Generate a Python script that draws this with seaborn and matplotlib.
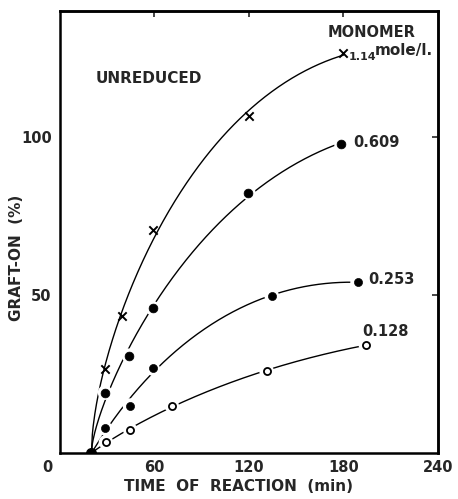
import numpy as np
import pandas as pd
import seaborn as sns
import matplotlib
matplotlib.use("Agg")
import matplotlib.pyplot as plt
import matplotlib.transforms as mtransforms

# Graft-on (%) versus time of reaction, one series per monomer concentration
start_time = 20.0
concentrations = ["1.14", "0.609", "0.253", "0.128"]
times_114 = [28.6, 39.2, 59.3, 120.0, 180.0]
graft_114 = [26.5, 43.4, 70.6, 106.7, 126.6]
times_0609 = [28.6, 43.8, 58.8, 119.6, 178.8]
graft_0609 = [19.0, 30.7, 45.8, 82.4, 97.8]
times_0253 = [28.6, 44.4, 58.8, 134.4, 189.0]
graft_0253 = [7.7, 14.9, 26.7, 49.8, 54.0]
times_0128 = [29.2, 44.7, 70.9, 131.2, 194.3]
graft_0128 = [3.3, 7.1, 14.9, 25.9, 34.1]

x_ticks = [0, 60, 120, 180, 240]
y_ticks = [50, 100]

series = {
    "1.14": (times_114, graft_114),
    "0.609": (times_0609, graft_0609),
    "0.253": (times_0253, graft_0253),
    "0.128": (times_0128, graft_0128),
}
rows = []
for conc in concentrations:
    t, g = series[conc]
    for ti, gi in zip(t, g):
        rows.append({"conc": conc, "time": ti, "graft": gi})
df = pd.DataFrame(rows)

sns.set_theme(style="white")
plt.rcParams["font.family"] = ["DejaVu Sans"]
plt.rcParams["font.weight"] = "bold"

fig = plt.figure(figsize=(4.58, 4.99), dpi=100)
ax = fig.add_axes([0.131, 0.093, 0.825, 0.885])


def smooth_curve(t, g):
    """Least-squares fit in sqrt(time - start) through the common origin."""
    t = np.asarray(t)
    g = np.asarray(g)
    u = np.sqrt(t - start_time)
    basis = np.column_stack([u, u ** 2, u ** 3])
    coef, *_ = np.linalg.lstsq(basis, g, rcond=None)
    tt = np.linspace(start_time, t.max(), 300)
    uu = np.sqrt(tt - start_time)
    gg = np.column_stack([uu, uu ** 2, uu ** 3]) @ coef
    return tt, gg


for conc in concentrations:
    sub = df[df.conc == conc]
    tt, gg = smooth_curve(sub.time, sub.graft)
    sns.lineplot(x=tt, y=gg, ax=ax, color="black", linewidth=1.0,
                 sort=False, zorder=2)

# white halos so the curves stop short of the markers
for conc in ["0.609", "0.253", "0.128"]:
    sub = df[df.conc == conc]
    sns.scatterplot(x=sub.time, y=sub.graft, ax=ax, s=110, color="white",
                    edgecolor="none", zorder=3)

sub = df[df.conc == "1.14"]
sns.scatterplot(x=sub.time, y=sub.graft, ax=ax, marker="x", s=36,
                color="black", linewidth=1.4, zorder=4)
sub = df[df.conc == "0.609"]
sns.scatterplot(x=sub.time, y=sub.graft, ax=ax, marker="o", s=40,
                color="black", edgecolor="black", zorder=4)
sub = df[df.conc == "0.253"]
sns.scatterplot(x=sub.time, y=sub.graft, ax=ax, marker="o", s=34,
                color="black", edgecolor="black", zorder=4)
sub = df[df.conc == "0.128"]
sns.scatterplot(x=sub.time, y=sub.graft, ax=ax, marker="o", s=26,
                facecolor="white", edgecolor="black", linewidth=1.3, zorder=4)
ax.scatter([start_time], [0], s=48, color="black", zorder=5)

ax.set_xlim(0, 240)
ax.set_ylim(0, 140)
ax.set_xticks(x_ticks)
ax.set_yticks(y_ticks)
ax.set_xticklabels([str(v) for v in x_ticks], fontsize=10.5, fontweight="bold")
ax.set_yticklabels([str(v) for v in y_ticks], fontsize=10.5, fontweight="bold")
ax.tick_params(axis="x", direction="in", length=4, width=1.2, pad=5)
ax.tick_params(axis="y", direction="out", length=4, width=1.2, pad=2)

# shift the "0" under the corner a little to the left
offset = mtransforms.ScaledTranslation(-13 / 100, 0, fig.dpi_scale_trans)
ax.get_xticklabels()[0].set_transform(ax.get_xticklabels()[0].get_transform() + offset)

top = ax.secondary_xaxis("top")
top.set_xticks([60, 120, 180])
top.tick_params(direction="in", length=4, width=1.2, labeltop=False)
right = ax.secondary_yaxis("right")
right.set_yticks(y_ticks)
right.tick_params(direction="in", length=4, width=1.2, labelright=False)

for sp in list(ax.spines.values()) + [top.spines["top"], right.spines["right"]]:
    sp.set_visible(True)
    sp.set_color("black")
    sp.set_linewidth(1.8)

ax.set_xlabel("")
ax.set_ylabel("")
fig.text(0.52, 0.026, "TIME  OF  REACTION  (min)", ha="center", va="center",
         fontsize=11, fontweight="bold")
fig.text(0.035, 0.483, "GRAFT-ON  (%)", ha="center", va="center",
         rotation=90, fontsize=11, fontweight="bold")

ax.text(0.094, 0.848, "UNREDUCED", transform=ax.transAxes, fontsize=11,
        fontweight="bold", ha="left", va="center")
ax.text(0.707, 0.951, "MONOMER", transform=ax.transAxes, fontsize=10.5,
        fontweight="bold", ha="left", va="center")
ax.text(0.765, 0.896, "1.14", transform=ax.transAxes, fontsize=8,
        fontweight="bold", ha="left", va="center")
ax.text(0.834, 0.910, "mole/l.", transform=ax.transAxes, fontsize=11,
        fontweight="bold", ha="left", va="center")
ax.text(0.775, 0.702, "0.609", transform=ax.transAxes, fontsize=10.5,
        fontweight="bold", ha="left", va="center")
ax.text(0.815, 0.393, "0.253", transform=ax.transAxes, fontsize=10.5,
        fontweight="bold", ha="left", va="center")
ax.text(0.800, 0.275, "0.128", transform=ax.transAxes, fontsize=10.5,
        fontweight="bold", ha="left", va="center")

fig.savefig("out.png", dpi=100, facecolor="white")
